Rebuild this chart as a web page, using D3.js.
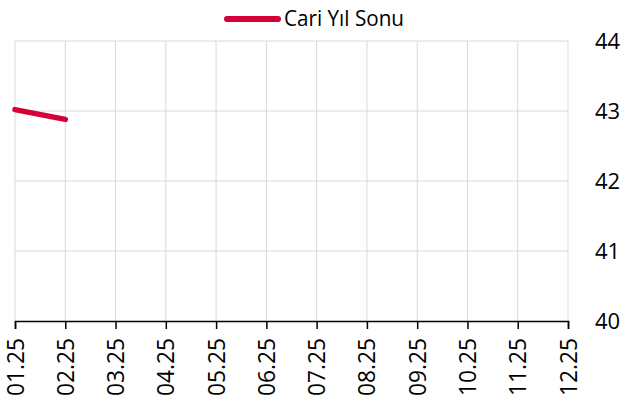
<!DOCTYPE html>
<html><head><meta charset="utf-8">
<script src="https://cdn.jsdelivr.net/npm/d3@7"></script>
<style>body{margin:0;background:#fff}svg{display:block}text{font-family:"Open Sans",sans-serif;fill:#000}</style>
</head><body>
<svg id="c" width="622" height="403"></svg>
<script>
const categories = ["01.25","02.25","03.25","04.25","05.25","06.25","07.25","08.25","09.25","10.25","11.25","12.25"];
const seriesName = "Cari Yıl Sonu";
const seriesValues = [43.02, 42.88];
const yTicks = [40, 41, 42, 43, 44];

const svg = d3.select("#c");
const x = d3.scalePoint().domain(categories).range([15, 568]);
const y = d3.scaleLinear().domain([40, 44]).range([321, 41]);

// horizontal grid
svg.append("g").selectAll("line").data(yTicks.filter(d => d > 40)).join("line")
  .attr("x1", x.range()[0]).attr("x2", x.range()[1])
  .attr("y1", d => y(d)).attr("y2", d => y(d))
  .attr("stroke", "#d9d9d9").attr("stroke-width", 1);
// vertical grid
svg.append("g").selectAll("line").data(categories).join("line")
  .attr("x1", d => x(d)).attr("x2", d => x(d))
  .attr("y1", y(44)).attr("y2", y(40))
  .attr("stroke", "#d9d9d9").attr("stroke-width", 1);

// x axis
const xAxis = d3.axisBottom(x).tickSize(8).tickPadding(6);
const gx = svg.append("g").attr("transform", `translate(0,${y(40)})`).call(xAxis);
gx.select(".domain").attr("stroke", "#000").attr("stroke-width", 1.5);
gx.selectAll(".tick line").attr("stroke", "#000").attr("stroke-width", 1.5);
gx.selectAll(".tick text")
  .attr("font-size", 23).attr("font-family", "Open Sans")
  .attr("transform", "rotate(-90)")
  .attr("textLength", 58).attr("lengthAdjust", "spacingAndGlyphs")
  .attr("text-anchor", "end").attr("dy", "0.35em").attr("x", -17).attr("y", 0);

// y axis right
const yAxis = d3.axisRight(y).tickValues(yTicks).tickSize(0).tickPadding(0).tickFormat(d3.format("d"));
const gy = svg.append("g").attr("transform", `translate(595,0)`).call(yAxis);
gy.select(".domain").remove();
gy.selectAll(".tick text").attr("font-size", 22).attr("font-family", "Open Sans").attr("x", 0);

// line
const line = d3.line().x((d, i) => x(categories[i])).y(d => y(d));
svg.append("path").datum(seriesValues).attr("d", line)
  .attr("fill", "none").attr("stroke", "#d50037").attr("stroke-width", 5.5).attr("stroke-linecap", "round");

// legend
const lg = svg.append("g");
lg.append("line").attr("x1", 227).attr("x2", 278).attr("y1", 19).attr("y2", 19)
  .attr("stroke", "#d50037").attr("stroke-width", 6).attr("stroke-linecap", "round");
lg.append("text").attr("x", 284).attr("y", 26)
  .attr("font-size", 22).attr("textLength", 120).attr("lengthAdjust", "spacingAndGlyphs")
  .text(seriesName);
</script>
</body></html>
